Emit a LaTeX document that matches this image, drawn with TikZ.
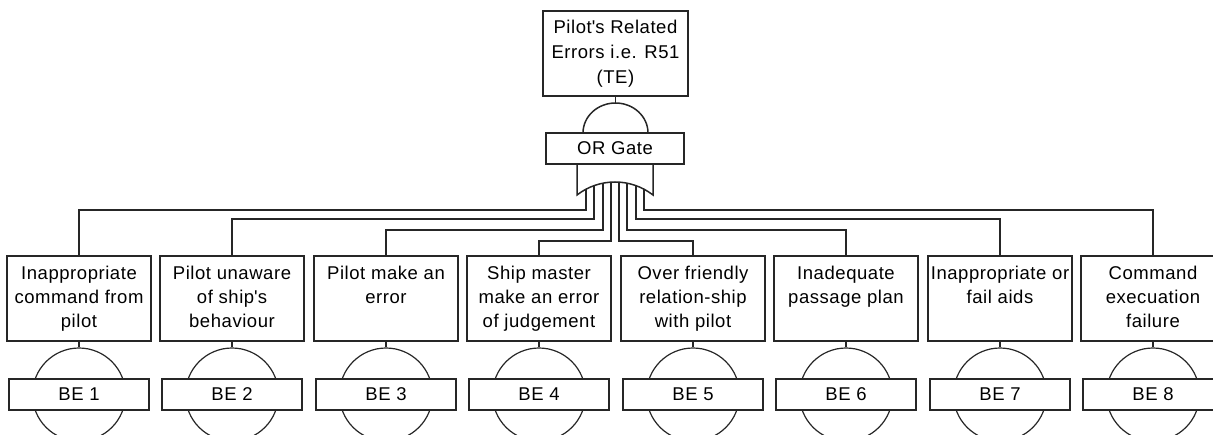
\documentclass[tikz,border=0pt]{standalone}
\usepackage{fontspec}
\setmainfont{Liberation Sans}[LetterSpace=3]
\newcommand{\evfont}{\fontsize{18.5}{24}\selectfont}
\tikzset{
  wire/.style={line width=1.5pt, draw=black!85},
  evbox/.style={draw=black!85, line width=1.5pt, inner sep=0pt, font=\evfont},
  bebox/.style={draw=black!85, line width=1.5pt, fill=white, minimum width=140pt, minimum height=31pt, inner sep=0pt, font=\evfont},
  becirc/.style={draw=black!85, line width=1.2pt, circle, minimum size=93pt, inner sep=0pt},
}
\begin{document}
\begin{tikzpicture}[x=1pt, y=-1pt]
\useasboundingbox (0,0) rectangle (1213,434);
\clip (0,0) rectangle (1213,434);

% top event
\node[evbox, minimum width=145pt, minimum height=85pt, align=center, font=\fontsize{18.5}{25}\selectfont] (te) at (615.5,53.5)
  {Pilot\textquotesingle s Related\\Errors i.e. R51\\(TE)};
% OR gate
\node[evbox, minimum width=138pt, minimum height=31pt] (org) at (615,148.5) {OR Gate};
\coordinate (gtop) at (615.5,103);
\draw[wire] (te.south) -- (gtop);
\draw[wire] (583,133) arc[start angle=180, end angle=0, x radius=32.5pt, y radius=30pt];
\draw[wire] (577,164) -- (577,195) arc[start angle=127.8, end angle=52.2, radius=62pt] -- (653,164);

% gate inputs on the concave arc
\coordinate (g1) at (586,189.2);
\coordinate (g2) at (594,185.7);
\coordinate (g3) at (603,183.2);
\coordinate (g4) at (611,182.1);
\coordinate (g5) at (619,182.1);
\coordinate (g6) at (627,183.2);
\coordinate (g7) at (636,185.7);
\coordinate (g8) at (644,189.2);

% events
\foreach \i/\cx/\lev/\gx/\txt in {
  1/79/210/586/{Inappropriate\\command from\\pilot},
  2/232/219/594/{Pilot unaware\\of ship\textquotesingle s\\behaviour},
  3/386/230/603/{Pilot make an\\error},
  4/539/241/611/{Ship master\\make an error\\of judgement},
  5/693/241/619/{Over friendly\\relation-ship\\with pilot},
  6/846/230/627/{Inadequate\\passage plan},
  7/1000/219/636/{Inappropriate or\\fail aids},
  8/1153/210/644/{Command\\execuation\\failure}}{
  \node[evbox] (t\i) at (\cx,298.5)
    {\parbox[c][85pt][t]{144pt}{\centering\rule{0pt}{23pt}\txt\par}};
  \node[becirc] (c\i) at (\cx,394.5) {};
  \node[bebox] (b\i) at (\cx,394.5) {BE \i};
  \draw[wire] (t\i.south) -- (c\i.north);
  \coordinate (h\i) at (\gx,\lev);
  \draw[wire] (t\i.north) |- (h\i) -- (g\i);
}
\end{tikzpicture}
\end{document}
